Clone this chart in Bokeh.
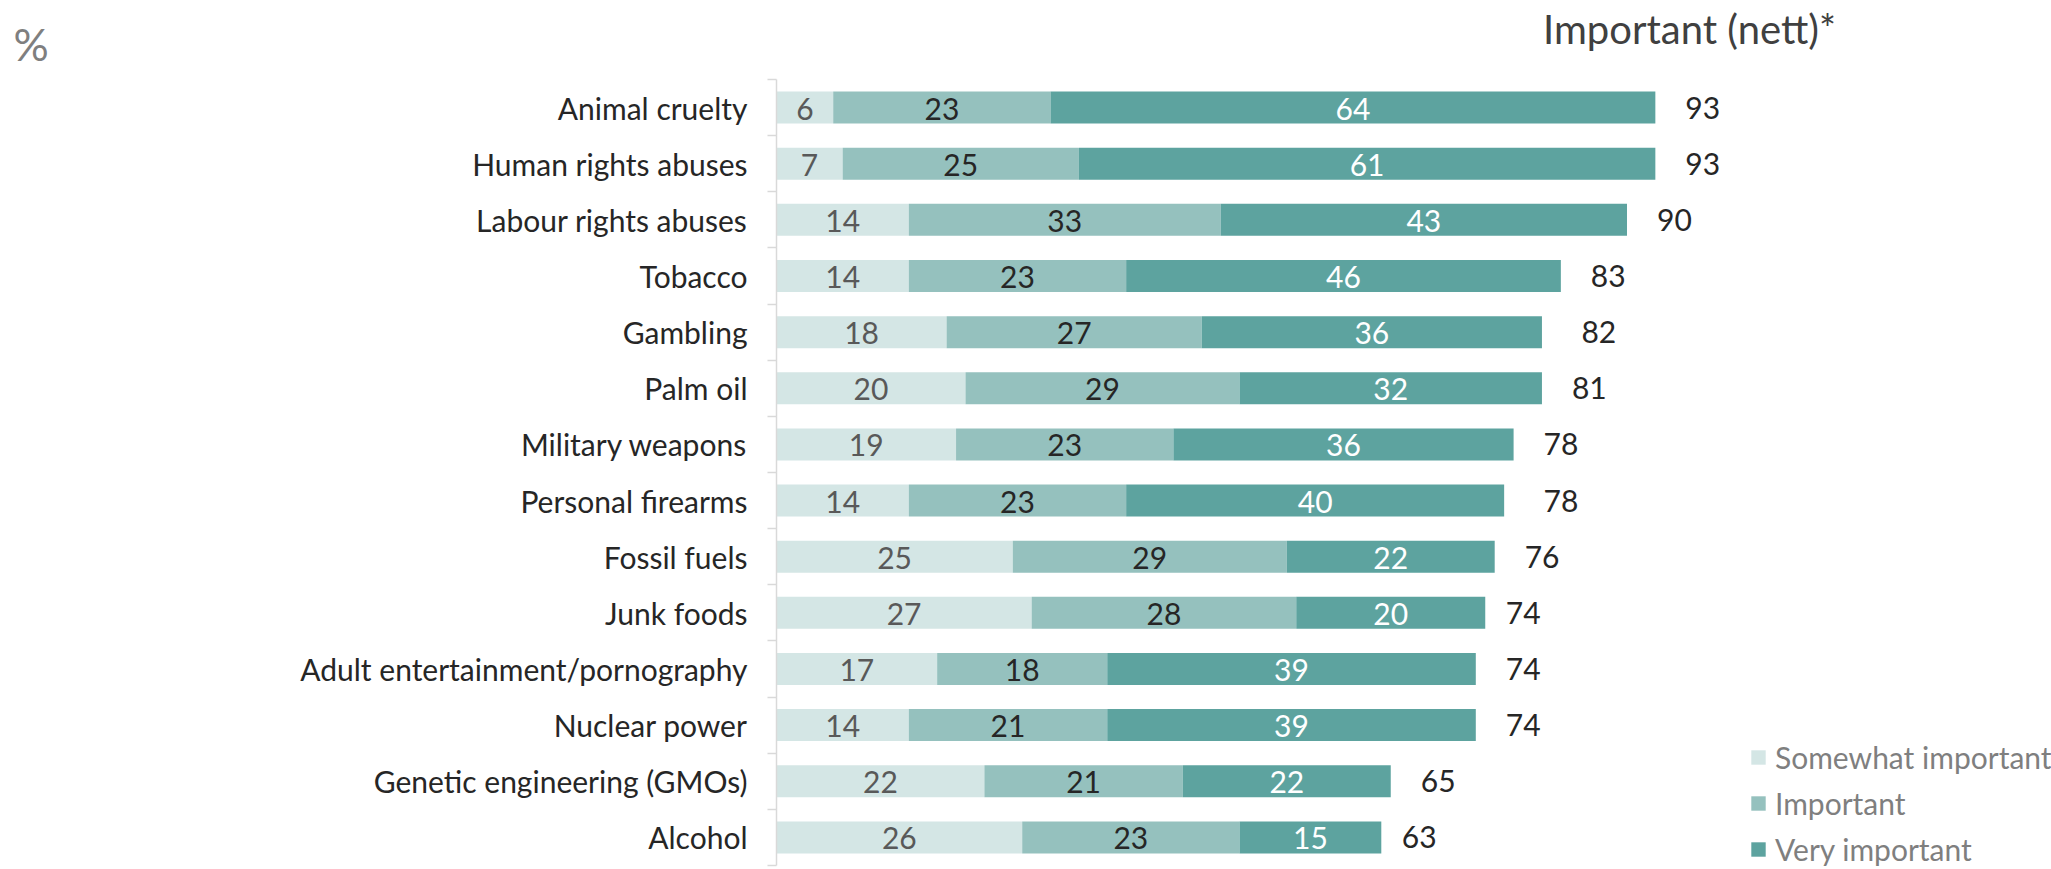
import numpy as np
from bokeh.plotting import figure
from bokeh.models import Range1d, FixedTicker, ColumnDataSource, Label
from bokeh.core.properties import value
from bokeh.embed import file_html
from bokeh.resources import INLINE

categories = ["Animal cruelty", "Human rights abuses", "Labour rights abuses", "Tobacco",
              "Gambling", "Palm oil", "Military weapons", "Personal firearms", "Fossil fuels",
              "Junk foods", "Adult entertainment/pornography", "Nuclear power",
              "Genetic engineering (GMOs)", "Alcohol"]
somewhat = [6, 7, 14, 14, 18, 20, 19, 14, 25, 27, 17, 14, 22, 26]
important = [23, 25, 33, 23, 27, 29, 23, 23, 29, 28, 18, 21, 21, 23]
very = [64, 61, 43, 46, 36, 32, 36, 40, 22, 20, 39, 39, 22, 15]
nett = [93, 93, 90, 83, 82, 81, 78, 78, 76, 74, 74, 74, 65, 63]
series_names = ["Somewhat important", "Important", "Very important"]

colors = ["#d4e6e5", "#95c1be", "#5da39f"]
label_colors = ["#595959", "#262626", "#ffffff"]
FONT = "Lato"
FS = "30px"

W, H = 2051, 869
axis_x_px = 776          # screen x of the value axis origin
px_per_unit = 9.45
row_px = 56.14
axis_top_px = 79

n = len(categories)
ypos = np.arange(n)
y_top = -0.5 - axis_top_px / row_px
y_bottom = y_top + H / row_px
x_start = -axis_x_px / px_per_unit
x_end = (W - axis_x_px) / px_per_unit

p = figure(width=W, height=H, output_backend="svg", toolbar_location=None,
           x_range=Range1d(x_start, x_end),
           y_range=Range1d(y_bottom, y_top),
           x_axis_location=None, y_axis_location="left",
           min_border_left=0, min_border_top=0,
           min_border_right=0, min_border_bottom=0)
p.outline_line_color = None
p.grid.visible = False
p.background_fill_color = "white"
p.border_fill_color = "white"

yax = p.yaxis[0]
yax.fixed_location = 0
yax.bounds = (-0.5, n - 0.5)
yax.ticker = FixedTicker(ticks=list(ypos), minor_ticks=list(np.arange(n + 1) - 0.5))
yax.major_label_overrides = {int(i): c for i, c in zip(ypos, categories)}
yax.major_tick_line_color = None
yax.major_tick_out = 0
yax.major_tick_in = 0
yax.minor_tick_out = 9
yax.minor_tick_in = 0
yax.minor_tick_line_color = "#d9d9d9"
yax.minor_tick_line_width = 1.5
yax.axis_line_color = "#d9d9d9"
yax.axis_line_width = 1.5
yax.major_label_standoff = 20
yax.major_label_text_font = FONT
yax.major_label_text_font_size = FS
yax.major_label_text_color = "#262626"

data = {"y": ypos, series_names[0]: somewhat, series_names[1]: important, series_names[2]: very}
src = ColumnDataSource(data)
p.hbar_stack(series_names, y="y", height=32 / row_px, color=colors, line_color=None,
             source=src, legend_label=series_names)

vals = [np.array(somewhat), np.array(important), np.array(very)]
start = np.zeros(n)
for v, col in zip(vals, label_colors):
    centers = start + v / 2.0
    s = ColumnDataSource({"x": centers, "y": ypos, "t": [str(x) for x in v]})
    p.text(x="x", y="y", text="t", source=s, text_align="center", text_baseline="middle",
           text_font=value(FONT), text_font_size=FS, text_color=col, y_offset=1)
    start = start + v

ts = ColumnDataSource({"x": nett, "y": ypos, "t": [str(x) for x in nett]})
p.text(x="x", y="y", text="t", source=ts, x_offset=30, text_align="left",
       text_baseline="middle", text_font=value(FONT), text_font_size=FS,
       text_color="#262626")

leg = p.legend[0]
leg.location = (1749, 2)
leg.padding = 0
leg.margin = 0
leg.border_line_color = None
leg.background_fill_alpha = 0
leg.glyph_width = 18
leg.glyph_height = 18
leg.label_standoff = 8
leg.spacing = 10
leg.label_text_font = FONT
leg.label_text_font_size = FS
leg.label_text_color = "#7f7f7f"

p.add_layout(Label(x=(1689 - axis_x_px) / px_per_unit, y=y_top + 28 / row_px,
                   text="Important (nett)*", text_align="center", text_baseline="alphabetic",
                   text_font=FONT, text_font_size="40px", text_color="#404040"))
p.add_layout(Label(x=(13 - axis_x_px) / px_per_unit, y=y_top + 43 / row_px,
                   text="%", text_align="left", text_baseline="alphabetic",
                   text_font=FONT, text_font_size="44px", text_color="#7f7f7f"))

open("out.html", "w").write(file_html(p, INLINE))
